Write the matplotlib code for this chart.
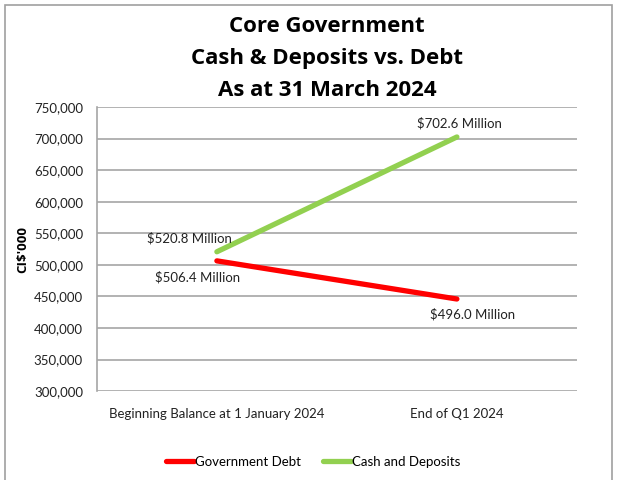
import matplotlib.pyplot as plt
from matplotlib.patches import Rectangle

plt.rcParams['font.family'] = ['Lato', 'DejaVu Sans']

categories = ["Beginning Balance at 1 January 2024", "End of Q1 2024"]
debt = [506400, 446000]
cash = [520800, 702600]
debt_labels = ["$506.4 Million", "$496.0 Million"]
cash_labels = ["$520.8 Million", "$702.6 Million"]
yticks = list(range(300000, 750001, 50000))

fig = plt.figure(figsize=(6.17, 4.8), dpi=100)
ax = fig.add_axes([0.157, 0.185, 0.778, 0.592])

x = list(range(len(categories)))
ax.plot(x, debt, color="#ff0000", lw=3.8, solid_capstyle="round", label="Government Debt", zorder=3)
ax.plot(x, cash, color="#92d050", lw=3.8, solid_capstyle="round", label="Cash and Deposits", zorder=3)

# data labels (offsets in points)
offs_debt = [(-14, -12), (11, -11)]
offs_cash = [(-20, 10), (2, 10)]
for i in x:
    ax.annotate(debt_labels[i], (i, debt[i]), xytext=offs_debt[i], textcoords="offset points",
                ha="center", va="center", fontsize=9.5, color="#222222")
    ax.annotate(cash_labels[i], (i, cash[i]), xytext=offs_cash[i], textcoords="offset points",
                ha="center", va="center", fontsize=9.5, color="#222222")

ax.set_xlim(-0.5, 1.5)
ax.set_ylim(300000, 750000)
ax.set_yticks(yticks)
ax.set_yticklabels([f"{v:,}" for v in yticks])
ax.set_xticks(x)
ax.set_xticklabels(categories)
ax.tick_params(axis="both", length=0, labelsize=9.5, labelcolor="#222222")
ax.tick_params(axis="x", pad=12)
ax.tick_params(axis="y", pad=10)
ax.grid(axis="y", color="#a6a6a6", lw=1.2)
ax.set_axisbelow(True)
for s in ["top", "right", "bottom"]:
    ax.spines[s].set_visible(False)
ax.spines["left"].set_color("#a6a6a6")
ax.spines["left"].set_linewidth(1.2)

ax.set_ylabel("CI$'000", fontsize=9.5, fontweight="bold", family="Open Sans", labelpad=3)

fig.text(0.53, 0.966, "Core Government\nCash & Deposits vs. Debt\nAs at 31 March 2024",
         ha="center", va="top", fontsize=16, fontweight="bold", family="Open Sans",
         linespacing=1.68)

fig.legend(loc="center", bbox_to_anchor=(0.508, 0.038), ncol=2, frameon=False,
           fontsize=9.5, handlelength=2.1, handletextpad=0.1, columnspacing=1.7)

fig.patches.append(Rectangle((0.008, -0.01), 0.984, 1.0, transform=fig.transFigure,
                             fill=False, edgecolor="#a0a0a0", lw=1.2))

fig.savefig("out.png", dpi=100)
